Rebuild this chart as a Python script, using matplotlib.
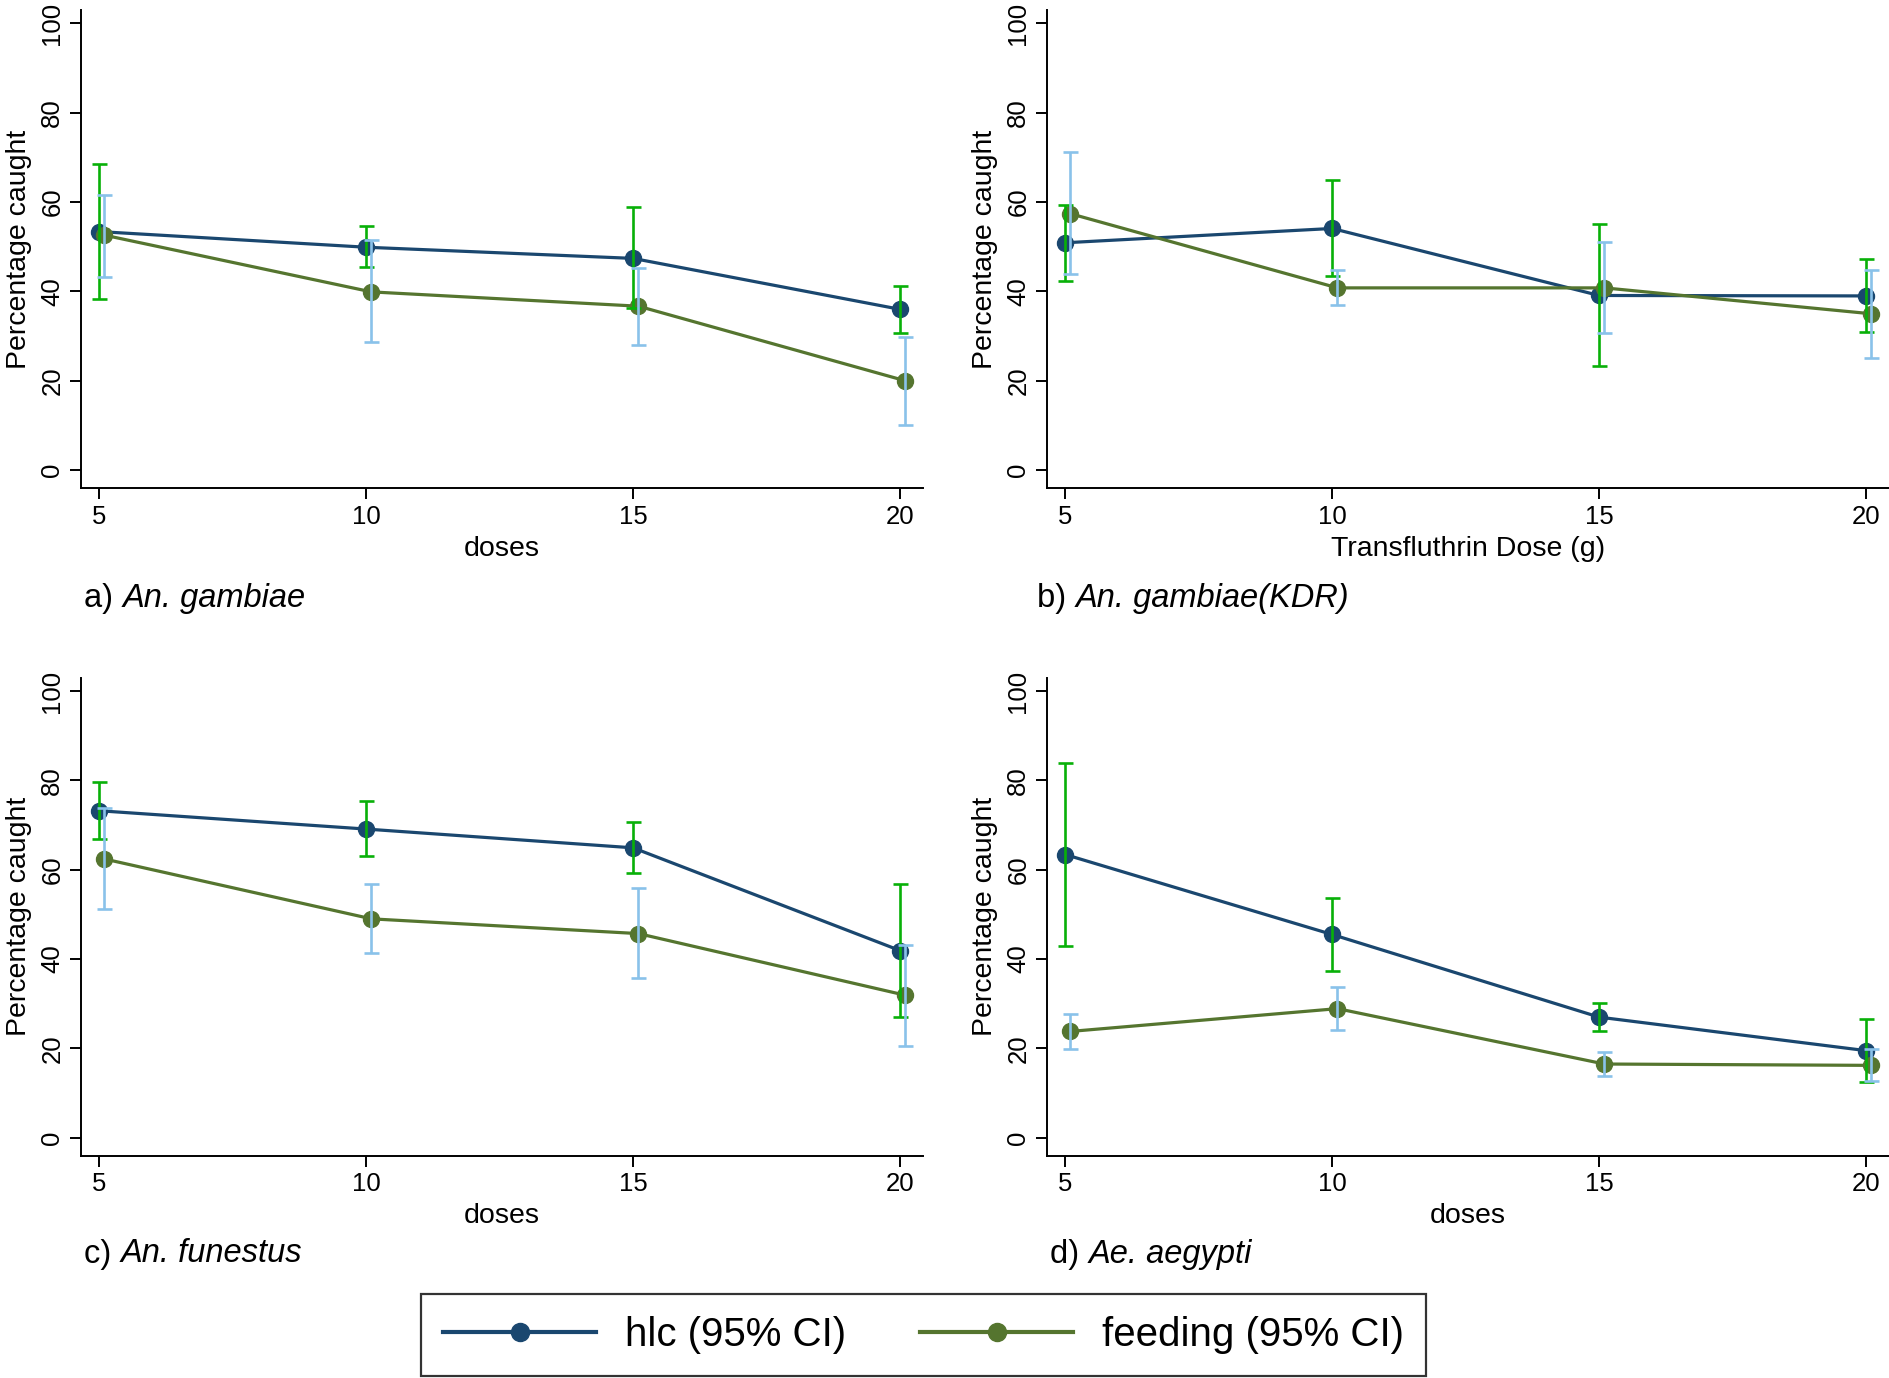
import matplotlib
matplotlib.use("Agg")
import matplotlib.pyplot as plt
from matplotlib.lines import Line2D

plt.rcParams["font.family"] = ["Liberation Sans", "DejaVu Sans"]

doses = [5, 10, 15, 20]

# a) An. gambiae
a_hlc = [53.4, 49.9, 47.4, 36.0]
a_hlc_lo = [38.3, 45.4, 36.2, 30.8]
a_hlc_hi = [68.5, 54.7, 58.9, 41.3]
a_feed = [52.6, 39.9, 36.7, 20.0]
a_feed_lo = [43.2, 28.6, 28.1, 10.2]
a_feed_hi = [61.7, 51.6, 45.3, 29.9]

# b) An. gambiae(KDR)
b_hlc = [50.9, 54.1, 39.1, 39.0]
b_hlc_lo = [42.3, 43.4, 23.2, 31.0]
b_hlc_hi = [59.3, 64.9, 55.2, 47.2]
b_feed = [57.4, 40.8, 40.8, 35.0]
b_feed_lo = [44.0, 36.9, 30.6, 25.2]
b_feed_hi = [71.2, 44.8, 51.0, 44.8]

# c) An. funestus
c_hlc = [73.2, 69.1, 64.9, 41.9]
c_hlc_lo = [66.9, 63.1, 59.3, 27.0]
c_hlc_hi = [79.7, 75.3, 70.7, 56.9]
c_feed = [62.4, 49.0, 45.7, 31.9]
c_feed_lo = [51.1, 41.4, 35.7, 20.6]
c_feed_hi = [73.8, 56.8, 56.0, 43.2]

# d) Ae. aegypti
d_hlc = [63.4, 45.5, 27.0, 19.5]
d_hlc_lo = [42.9, 37.3, 23.9, 12.4]
d_hlc_hi = [84.0, 53.7, 30.1, 26.6]
d_feed = [23.8, 28.9, 16.5, 16.2]
d_feed_lo = [19.9, 24.2, 13.8, 12.7]
d_feed_hi = [27.6, 33.8, 19.2, 19.9]

navy = "#1a476f"
forest = "#55752f"
ci_green = "#08b008"
ci_blue = "#89c2ea"

W, H = 1890, 1378
fig = plt.figure(figsize=(W / 100, H / 100), dpi=100)

ax_w = (923 - 81) / W
ax_h = 107 * 4.467 / H
panels = [
    ([81 / W, (H - 488) / H, ax_w, ax_h], a_hlc, a_hlc_lo, a_hlc_hi, a_feed, a_feed_lo, a_feed_hi,
     "doses", "a)", "An. gambiae", (84, 599)),
    ([1047 / W, (H - 488) / H, ax_w, ax_h], b_hlc, b_hlc_lo, b_hlc_hi, b_feed, b_feed_lo, b_feed_hi,
     "Transfluthrin Dose (g)", "b)", "An. gambiae(KDR)", (1037, 599)),
    ([81 / W, (H - 1155.6) / H, ax_w, ax_h], c_hlc, c_hlc_lo, c_hlc_hi, c_feed, c_feed_lo, c_feed_hi,
     "doses", "c)", "An. funestus", (84, 1254)),
    ([1047 / W, (H - 1155.6) / H, ax_w, ax_h], d_hlc, d_hlc_lo, d_hlc_hi, d_feed, d_feed_lo, d_feed_hi,
     "doses", "d)", "Ae. aegypti", (1050, 1254)),
]

tag_texts = []
for p in panels:
    rect, hlc, hlo, hhi, feed, flo, fhi, xlabel, tag, species, cap_xy = p
    ax = fig.add_axes(rect)
    xf = [d + 0.1 for d in doses]  # feeding points sit slightly right
    ax.plot(doses, hlc, color=navy, lw=2.3, marker="o", ms=11.5, zorder=3)
    ax.plot(xf, feed, color=forest, lw=2.3, marker="o", ms=11.5, zorder=3)
    ax.errorbar(doses, hlc, yerr=[[h - l for h, l in zip(hlc, hlo)], [u - h for h, u in zip(hlc, hhi)]],
                fmt="none", ecolor=ci_green, elinewidth=1.9, capsize=5.4, capthick=1.9, zorder=4)
    ax.errorbar(xf, feed, yerr=[[f - l for f, l in zip(feed, flo)], [u - f for f, u in zip(feed, fhi)]],
                fmt="none", ecolor=ci_blue, elinewidth=1.9, capsize=5.4, capthick=1.9, zorder=4)
    ax.set_xlim(4.66, 20.43)
    ax.set_ylim(-4, 103)
    ax.set_xticks(doses)
    ax.set_yticks([0, 20, 40, 60, 80, 100])
    ax.spines["top"].set_visible(False)
    ax.spines["right"].set_visible(False)
    for s in ["left", "bottom"]:
        ax.spines[s].set_linewidth(1.4)
    ax.tick_params(axis="both", labelsize=18.5, width=1.4, length=8, pad=4)
    plt.setp(ax.get_yticklabels(), rotation=90, va="center")
    ax.set_xlabel(xlabel, fontsize=20.5, labelpad=5)
    ax.set_ylabel("Percentage caught", fontsize=20.5, labelpad=6)
    # caption: tag upright, species name italic right after it
    t = fig.text(cap_xy[0] / W, 1 - cap_xy[1] / H, tag + " ", fontsize=23.5, ha="left", va="center")
    tag_texts.append((t, species))

fig.canvas.draw()
for t, species in tag_texts:
    bb = t.get_window_extent()
    fig.text(bb.x1 / W, bb.y0 / H, species, fontsize=23.5, style="italic", ha="left", va="bottom")

handles = [Line2D([], [], color=navy, lw=3, marker="o", ms=13),
           Line2D([], [], color=forest, lw=3, marker="o", ms=13)]
leg = fig.legend(handles, ["hlc (95% CI)", "feeding (95% CI)"], loc="lower center",
                 bbox_to_anchor=(923.5 / W, 0.0), ncol=2, fontsize=29, frameon=True, fancybox=False,
                 handlelength=3.8, handletextpad=0.7, columnspacing=1.85, borderpad=0.55, borderaxespad=0.05)
leg.get_frame().set_edgecolor("black")
leg.get_frame().set_linewidth(1.6)

fig.savefig("out.png", dpi=100, facecolor="white")
